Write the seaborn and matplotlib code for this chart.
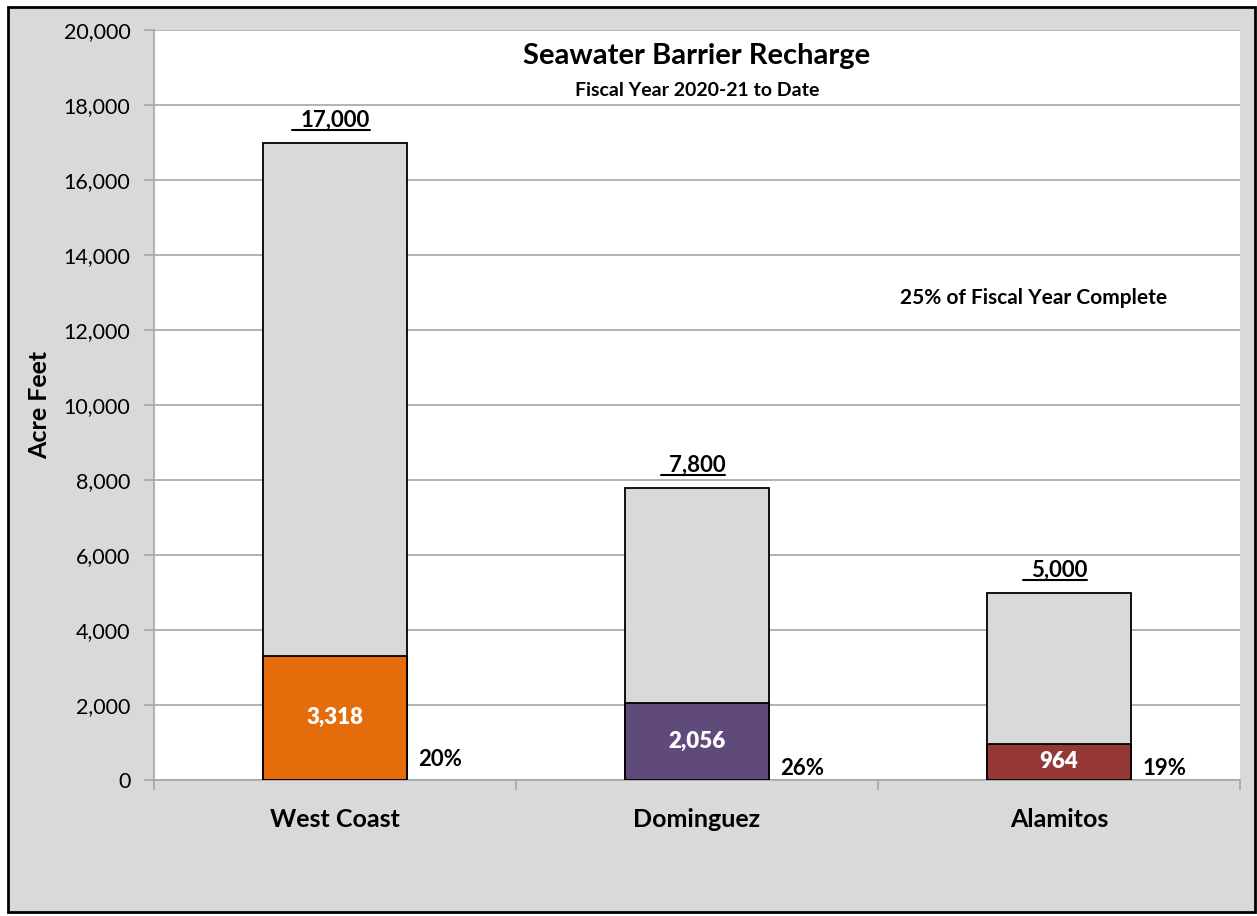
import pandas as pd
import matplotlib.pyplot as plt
import seaborn as sns
from matplotlib.patches import Rectangle
from matplotlib.lines import Line2D
from matplotlib.ticker import FuncFormatter, FixedLocator

# Datos
barriers = ["West Coast", "Dominguez", "Alamitos"]
targets = [17000, 7800, 5000]
to_date = [3318, 2056, 964]
colors = ["#E46C0A", "#604A7B", "#953735"]
yticks = list(range(0, 20001, 2000))
title = "Seawater Barrier Recharge"
subtitle = "Fiscal Year 2020-21 to Date"
note = "25% of Fiscal Year Complete"

df = pd.DataFrame({"Barrier": barriers, "Target": targets, "ToDate": to_date})
df["Pct"] = df["ToDate"] / df["Target"] * 100

sns.set_theme(style="white")
plt.rcParams["font.family"] = ["Lato", "DejaVu Sans"]
plt.rcParams["text.color"] = "black"
plt.rcParams["axes.labelcolor"] = "black"
plt.rcParams["xtick.labelcolor"] = "black"
plt.rcParams["ytick.labelcolor"] = "black"

fig = plt.figure(figsize=(12.57, 9.16), dpi=100, facecolor="white")
fig.patches.append(Rectangle((8 / 1257, 4 / 916), 1247 / 1257, 905 / 916,
                             transform=fig.transFigure, facecolor="#D9D9D9",
                             edgecolor="black", linewidth=2, zorder=-5))
ax = fig.add_axes([154 / 1257, 1 - 780 / 916, 1086 / 1257, 750 / 916])
ax.set_facecolor("white")

# barras totales (gris) y avance a la fecha encima
sns.barplot(data=df, x="Barrier", y="Target", color="#D9D9D9", width=0.4, saturation=1,
            edgecolor="black", linewidth=1.3, ax=ax, zorder=2)
sns.barplot(data=df, x="Barrier", y="ToDate", hue="Barrier", palette=colors, saturation=1,
            width=0.4, edgecolor="black", linewidth=1.3, legend=False, ax=ax, zorder=3)

ax.set_ylim(0, 20000)
ax.set_xlim(-0.5, 2.5)
ax.set_yticks(yticks)
ax.yaxis.set_major_formatter(FuncFormatter(lambda v, p: f"{int(v):,}"))
ax.grid(axis="y", color="#A6A6A6", linewidth=1.2, zorder=0)
ax.set_axisbelow(True)

for s in ["top", "right"]:
    ax.spines[s].set_visible(False)
for s in ["left", "bottom"]:
    ax.spines[s].set_color("#A6A6A6")
    ax.spines[s].set_linewidth(1.2)

ax.tick_params(axis="y", which="major", direction="out", length=7, width=1.2,
               color="#A6A6A6", left=True, labelsize=15.5, pad=10)
ax.tick_params(axis="x", which="major", length=0, labelsize=18, pad=20)
ax.xaxis.set_minor_locator(FixedLocator([-0.5, 0.5, 1.5, 2.5]))
ax.tick_params(axis="x", which="minor", direction="out", length=7, width=1.2,
               color="#A6A6A6", bottom=True)
for lbl in ax.get_xticklabels():
    lbl.set_fontweight("bold")
ax.set_xlabel("")
ax.set_ylabel("Acre Feet", fontsize=18, fontweight="bold", labelpad=9)

top_labels = []
for i, row in df.iterrows():
    t = ax.text(i, row["Target"] + 320, f"{row['Target']:,}", ha="center", va="bottom",
                fontsize=16, fontweight="bold", color="black", zorder=5)
    top_labels.append(t)
    ax.text(i, row["ToDate"] / 2, f"{row['ToDate']:,}", ha="center", va="center",
            fontsize=16, fontweight="heavy", color="white", zorder=5)
    ax.text(i + 0.23, 260 if i == 0 else 30, f"{row['Pct']:.0f}%", ha="left", va="bottom",
            fontsize=16, fontweight="bold", color="black", zorder=5)

ax.text(0.5, 0.965, title, transform=ax.transAxes, ha="center", va="center",
        fontsize=21, fontweight="bold")
ax.text(0.5, 0.92, subtitle, transform=ax.transAxes, ha="center", va="center",
        fontsize=14, fontweight="bold")
ax.text(0.81, 0.643, note, transform=ax.transAxes, ha="center", va="center",
        fontsize=15, fontweight="bold")

# subrayado de los totales (con espacio delante, como en el original)
fig.canvas.draw()
inv = fig.transFigure.inverted()
for t in top_labels:
    bb = t.get_window_extent()
    x0, y0 = inv.transform((bb.x0 - 8, bb.y0 + 1))
    x1, _ = inv.transform((bb.x1, bb.y0 + 1))
    fig.add_artist(Line2D([x0, x1], [y0, y0], color="black", linewidth=1.5,
                          transform=fig.transFigure))

plt.savefig("out.png", dpi=100, facecolor=fig.get_facecolor())
plt.close()
